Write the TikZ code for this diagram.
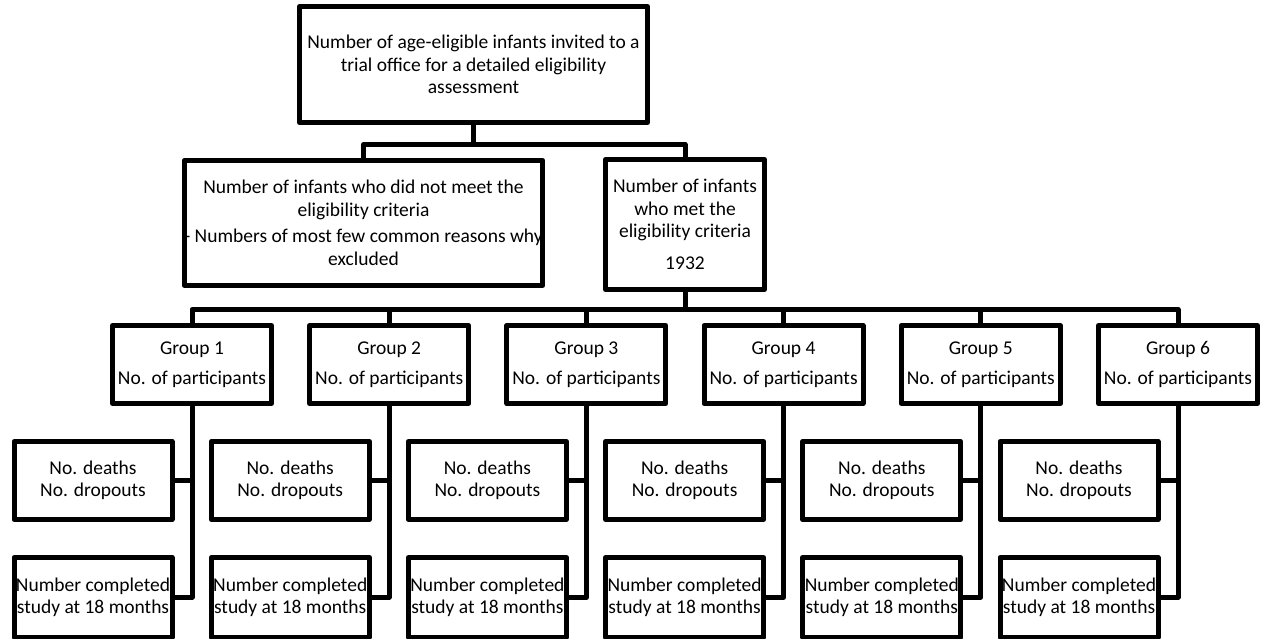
\documentclass[tikz,border=0pt]{standalone}
\usepackage{fontspec}
\setmainfont{Carlito}
\begin{document}
\begin{tikzpicture}[x=1pt,y=-1pt,
  box/.style={draw=black,line width=5pt,line join=round,inner sep=0pt,align=center,
    font=\fontsize{19.5}{22.5}\selectfont,text=black},
  conn/.style={draw=black,line width=5pt,line join=round}]
\useasboundingbox (0,0) rectangle (1263,638);
\clip (0,0) rectangle (1263,638);
\node[box,minimum width=348pt,minimum height=116pt] (top) at (473.5,64.5)
  {Number of age-eligible infants invited to a\\trial office for a detailed eligibility\\assessment};
\node[box,minimum width=356pt,minimum height=125pt] (excl) at (363.5,223)
  {Number of infants who did not meet the\\eligibility criteria\\[4pt]- Numbers of most few common reasons why\\excluded};
\node[box,minimum width=159pt,minimum height=130pt] (met) at (685,224.5)
  {Number of infants\\who met the\\eligibility criteria\\[9pt]1932};
\draw[conn] (top.south) -- ++(0,19.5) -| (excl.north);
\draw[conn] (top.south) -- ++(0,19.5) -| (met.north);
\foreach \i/\c in {1/192,2/389.2,3/586.4,4/783.6,5/980.8,6/1178}{
  \node[box,minimum width=159pt,minimum height=78pt] (g\i) at (\c,364.5)
    {Group \i\\[8pt]No. of participants};
  \node[box,minimum width=158pt,minimum height=78pt] (d\i) at (\c-99,480.5)
    {No. deaths\\No. dropouts};
  \node[box,minimum width=158pt,minimum height=79.5pt] (c\i) at (\c-99,597.25)
    {Number completed\\study at 18 months};
  \draw[conn] (met.south) -- ++(0,17.5) -| (g\i.north);
  \draw[conn] (g\i.south) |- (d\i.east);
  \draw[conn] (g\i.south) |- (c\i.east);
}
\end{tikzpicture}
\end{document}
